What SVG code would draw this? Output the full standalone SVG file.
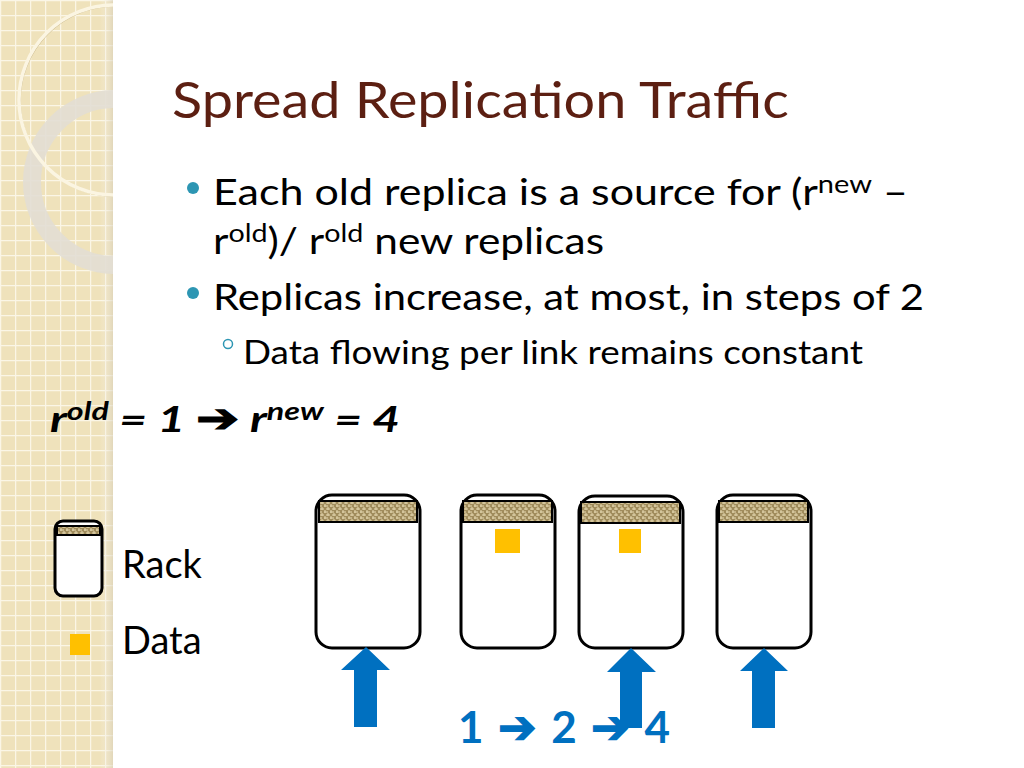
<svg xmlns="http://www.w3.org/2000/svg" width="1024" height="768" viewBox="0 0 1024 768">
<defs>
<pattern id="grid" width="15" height="15" patternUnits="userSpaceOnUse"><rect width="15" height="15" fill="#efe2bb"/><path d="M0 0.5H15M0.5 0V15" stroke="#fbf6e6" stroke-width="1.5"/></pattern>
<pattern id="burlap" width="6" height="6" patternUnits="userSpaceOnUse"><rect width="6" height="6" fill="#a08c5c"/><path d="M0 2H4M2 5H6M1 0V3M4 3V6" stroke="#e6d9b0" stroke-width="1"/></pattern>
<linearGradient id="edge" x1="0" x2="1"><stop offset="0" stop-color="#fff" stop-opacity="0"/><stop offset="1" stop-color="#d8cfb8" stop-opacity="0.6"/></linearGradient>
<clipPath id="strip"><rect x="0" y="0" width="113" height="768"/></clipPath>
</defs>
<style>
.t{font-family:Lato,"Liberation Sans",sans-serif;fill:#000}
.rack{fill:#fff;stroke:#000;stroke-width:3}
.top{fill:url(#burlap);stroke:#000;stroke-width:2}
.data{fill:#ffc000}
.arr{fill:#0070c0}
</style>
<rect width="1024" height="768" fill="#fff"/>
<g id="background">
<rect x="0" y="0" width="113" height="768" fill="url(#grid)"/>
<rect x="100" y="0" width="13" height="768" fill="url(#edge)"/>
<g clip-path="url(#strip)">
<circle cx="115" cy="182" r="83" fill="none" stroke="#e2ded4" stroke-width="18" opacity="0.9"/>
<circle cx="114" cy="100" r="95" fill="none" stroke="#c9b88a" stroke-width="1.5" transform="translate(1,1)"/>
<circle cx="114" cy="100" r="95" fill="none" stroke="#fbf5e2" stroke-width="3.5"/>
</g>
</g>
<text class="t" x="172" y="118" font-size="50" style="fill:#5c1f12" textLength="617" lengthAdjust="spacingAndGlyphs">Spread Replication Traffic</text>
<circle cx="193" cy="188" r="6" fill="#2d96b3"/>
<text class="t" x="213" y="205" font-size="37" textLength="695" lengthAdjust="spacingAndGlyphs">Each old replica is a source for (r<tspan font-size="25" dy="-12">new</tspan><tspan dy="12"> –</tspan></text>
<text class="t" x="213" y="254" font-size="37" textLength="391" lengthAdjust="spacingAndGlyphs">r<tspan font-size="25" dy="-12">old</tspan><tspan dy="12">)/ r</tspan><tspan font-size="25" dy="-12">old</tspan><tspan dy="12"> new replicas</tspan></text>
<circle cx="193" cy="293" r="6" fill="#2d96b3"/>
<text class="t" x="213" y="310" font-size="37" textLength="711" lengthAdjust="spacingAndGlyphs">Replicas increase, at most, in steps of 2</text>
<circle cx="228" cy="344" r="4.5" fill="none" stroke="#2d96b3" stroke-width="1.5"/>
<text class="t" x="243" y="364" font-size="32" textLength="620" lengthAdjust="spacingAndGlyphs">Data flowing per link remains constant</text>
<text class="t" x="50" y="432" font-size="37" font-weight="bold" font-style="italic" textLength="350" lengthAdjust="spacingAndGlyphs">r<tspan font-size="25" dy="-12">old</tspan><tspan dy="12"> = 1  </tspan><tspan font-style="normal" font-size="40">➔</tspan><tspan> r</tspan><tspan font-size="25" dy="-12">new</tspan><tspan dy="12"> = 4</tspan></text>
<g id="legend-rack"><rect class="rack" x="55" y="521" width="47" height="75" rx="8"/><rect class="top" x="57" y="526" width="43" height="9"/></g>
<text class="t" x="122" y="578" font-size="38">Rack</text>
<g id="legend-data"><rect class="data" x="70" y="634" width="20" height="21"/></g>
<text class="t" x="122" y="654" font-size="38">Data</text>
<g id="rack1"><rect class="rack" x="316" y="495" width="104" height="153" rx="16"/><rect class="top" x="319" y="501" width="98" height="21"/></g>
<g id="rack2"><rect class="rack" x="461" y="495" width="94" height="153" rx="16"/><rect class="top" x="463" y="501" width="89" height="21"/><rect class="data" x="495" y="529" width="25" height="24"/></g>
<g id="rack3"><rect class="rack" x="579" y="496" width="104" height="152" rx="16"/><rect class="top" x="581" y="502" width="99" height="21"/><rect class="data" x="619" y="529" width="22" height="24"/></g>
<g id="rack4"><rect class="rack" x="717" y="495" width="94" height="153" rx="16"/><rect class="top" x="719" y="501" width="89" height="21"/></g>
<text x="458" y="743" font-family="Lato, Liberation Sans, sans-serif" font-size="44" font-weight="bold" fill="#0070c0" textLength="212" lengthAdjust="spacing">1 <tspan font-size="46">➔</tspan> 2 <tspan font-size="46">➔</tspan> 4</text>
<g id="connectors">
<polygon class="arr" points="366,647 390,670 377,670 377,727 354,727 354,670 341,670"/>
<polygon class="arr" points="631,648 656,672 642,672 642,728 620,728 620,672 607,672"/>
<polygon class="arr" points="764,648 788,671 775,671 775,728 752,728 752,671 740,671"/>
</g>
</svg>
